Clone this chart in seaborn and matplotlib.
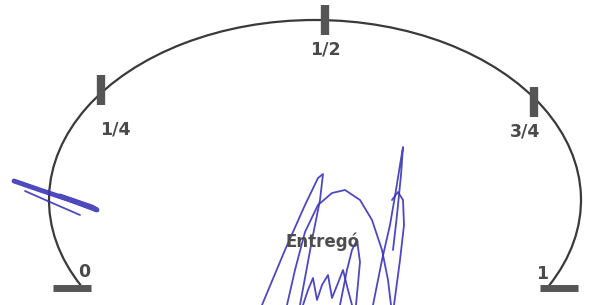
import numpy as np
import pandas as pd
import seaborn as sns
import matplotlib.pyplot as plt
from matplotlib.patches import Arc

sns.set_theme(style="white")

# gauge marks (pixel-like coordinates of the scan)
tick_labels = ["1/4", "1/2", "3/4"]
tick_x = [101, 325, 534]
tick_y = [90, 20, 102]
label_x = [115, 325, 525]
label_y = [130, 50, 132]

end_labels = ["0", "1"]
end_label_x = [84, 542]
end_label_y = [272, 274]
base_x0 = [53, 540]
base_x1 = [91, 578]
base_y = [288, 288]

# signature strokes
strokes = {
    "s1": [(14, 181), (40, 190), (70, 200), (97, 210), (92, 207), (60, 196)],
    "s2": [(25, 191), (50, 202), (80, 215)],
    "s3": [(262, 305), (285, 250), (305, 205), (318, 178), (323, 174), (320, 200), (312, 240), (300, 305)],
    "s4": [(287, 305), (295, 270), (305, 232), (318, 205), (332, 193), (345, 190), (360, 200), (372, 220), (382, 250), (388, 280), (391, 305)],
    "s5": [(373, 305), (382, 260), (390, 225), (396, 190), (400, 165), (403, 147), (401, 175), (397, 215), (393, 250)],
    "s6": [(392, 200), (398, 192), (403, 200), (404, 225), (400, 260), (394, 305)],
    "s7": [(303, 305), (308, 290), (313, 278), (317, 300), (322, 285), (328, 275), (332, 298), (338, 283), (343, 270), (348, 290), (352, 305)],
    "s8": [(340, 305), (347, 270), (352, 250), (357, 240), (360, 262), (356, 305)],
}

rows = []
for name, pts in strokes.items():
    for i, (x, y) in enumerate(pts):
        rows.append({"stroke": name, "order": i, "x": x, "y": y})
sig = pd.DataFrame(rows)

fig = plt.figure(figsize=(5.93, 3.05), dpi=100)
ax = fig.add_axes([0, 0, 1, 1])
ax.set_xlim(0, 593)
ax.set_ylim(305, 0)
ax.axis("off")

# the gauge arc (open at the bottom)
ax.add_patch(Arc((315, 200), 532, 360, theta1=160, theta2=20, color="#3a3a3a", lw=1.6))

# tick bars
for x, y in zip(tick_x, tick_y):
    ax.plot([x, x], [y - 15, y + 15], color="#555555", lw=6, solid_capstyle="butt")
for x0, x1, y in zip(base_x0, base_x1, base_y):
    ax.plot([x0, x1], [y, y], color="#555555", lw=5, solid_capstyle="butt")

for t, x, y in zip(tick_labels, label_x, label_y):
    ax.text(x, y, t, ha="center", va="center", fontsize=12.5, fontweight="bold", color="#4a4a4a")
for t, x, y in zip(end_labels, end_label_x, end_label_y):
    ax.text(x, y, t, ha="center", va="center", fontsize=12.5, fontweight="bold", color="#4a4a4a")

ax.text(323, 242, "Entregó", ha="center", va="center", fontsize=12, fontweight="bold", color="#4d4d4d")

# signature
for name, g in sig.groupby("stroke"):
    lw = 3.5 if name == "s1" else 1.3
    sns.lineplot(data=g, x="x", y="y", sort=False, ax=ax, color="#3b35b5", lw=lw, alpha=0.9, legend=False)

ax.set_xlim(0, 593)
ax.set_ylim(305, 0)
ax.set_xlabel("")
ax.set_ylabel("")
fig.savefig("out.png", dpi=100)
